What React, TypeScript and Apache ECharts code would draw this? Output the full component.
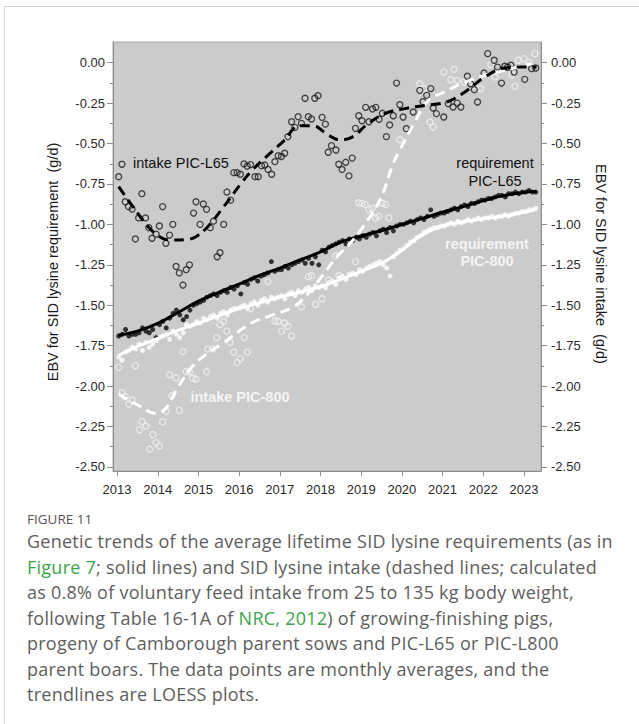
import React, { useEffect, useRef } from "react";
import * as echarts from "echarts";

// Axis ticks
const YEAR_TICKS = [2013, 2014, 2015, 2016, 2017, 2018, 2019, 2020, 2021, 2022, 2023];
const Y_TICKS = [-2.5, -2.25, -2.0, -1.75, -1.5, -1.25, -1.0, -0.75, -0.5, -0.25, 0];
const Y_MINOR = [-2.375, -2.125, -1.875, -1.625, -1.375, -1.125, -0.875, -0.625, -0.375, -0.125];

// Monthly averages of the requirement EBV, from January 2013 to April 2023
const REQ_START_YEAR = 2013;
const reqL65 = [
  -1.69, -1.68, -1.65, -1.69, -1.68, -1.68, -1.67, -1.64, -1.66, -1.67, -1.65, -1.70,
  -1.62, -1.60, -1.64, -1.58, -1.55, -1.53, -1.56, -1.59, -1.57, -1.53, -1.50, -1.49,
  -1.48, -1.47, -1.45, -1.44, -1.43, -1.44, -1.42, -1.41, -1.42, -1.39, -1.40, -1.38,
  -1.43, -1.36, -1.37, -1.34, -1.33, -1.35, -1.32, -1.31, -1.30, -1.23, -1.29, -1.28,
  -1.28, -1.26, -1.27, -1.25, -1.24, -1.23, -1.22, -1.24, -1.21, -1.24, -1.20, -1.25,
  -1.16, -1.17, -1.14, -1.13, -1.12, -1.11, -1.10, -1.12, -1.09, -1.10, -1.08, -1.09,
  -1.07, -1.08, -1.06, -1.05, -1.07, -1.04, -1.03, -1.05, -1.02, -1.04, -1.01, -1.00,
  -1.00, -0.99, -0.98, -0.99, -0.97, -0.96, -0.97, -0.95, -0.91, -0.95, -0.94, -0.93,
  -0.93, -0.92, -0.91, -0.90, -0.91, -0.89, -0.88, -0.89, -0.87, -0.87, -0.86, -0.85,
  -0.85, -0.84, -0.84, -0.83, -0.82, -0.82, -0.83, -0.81, -0.81, -0.80, -0.81, -0.80,
  -0.80, -0.79, -0.80, -0.80,
];
const req800 = [
  -1.82, -1.84, -1.79, -1.78, -1.76, -1.77, -1.74, -1.78, -1.73, -1.76, -1.74, -1.72,
  -1.70, -1.69, -1.68, -1.71, -1.66, -1.68, -1.70, -1.67, -1.62, -1.63, -1.62, -1.60,
  -1.61, -1.58, -1.59, -1.57, -1.56, -1.58, -1.55, -1.54, -1.56, -1.53, -1.52, -1.52,
  -1.51, -1.50, -1.52, -1.49, -1.48, -1.50, -1.47, -1.46, -1.48, -1.45, -1.46, -1.45,
  -1.44, -1.46, -1.43, -1.42, -1.44, -1.41, -1.42, -1.40, -1.39, -1.41, -1.38, -1.39,
  -1.38, -1.39, -1.36, -1.35, -1.37, -1.33, -1.32, -1.34, -1.31, -1.30, -1.31, -1.28,
  -1.29, -1.27, -1.26, -1.25, -1.24, -1.23, -1.25, -1.27, -1.32, -1.20, -1.18, -1.16,
  -1.15, -1.13, -1.11, -1.10, -1.08, -1.07, -1.05, -1.04, -1.03, -1.02, -1.02, -1.01,
  -1.01, -1.00, -0.99, -1.00, -0.98, -0.99, -0.98, -0.97, -0.98, -0.97, -0.96, -0.97,
  -0.96, -0.96, -0.95, -0.96, -0.95, -0.95, -0.94, -0.95, -0.94, -0.93, -0.93, -0.92,
  -0.92, -0.91, -0.91, -0.90,
];

// LOESS trends of the requirements
const reqL65Trend: [number, number][] = [
  [2013.04, -1.685], [2013.5, -1.66], [2014.0, -1.612], [2014.5, -1.545], [2015.0, -1.475],
  [2015.5, -1.42], [2016.0, -1.37], [2016.5, -1.315], [2017.0, -1.27], [2017.5, -1.22],
  [2018.0, -1.17], [2018.5, -1.11], [2019.0, -1.072], [2019.5, -1.038], [2020.0, -1.0],
  [2020.5, -0.963], [2021.0, -0.925], [2021.5, -0.89], [2022.0, -0.853], [2022.5, -0.822],
  [2023.0, -0.802], [2023.3, -0.797],
];
const req800Trend: [number, number][] = [
  [2013.04, -1.81], [2013.5, -1.755], [2014.0, -1.705], [2014.5, -1.655], [2015.0, -1.61],
  [2015.5, -1.565], [2016.0, -1.52], [2016.5, -1.485], [2017.0, -1.45], [2017.5, -1.42],
  [2018.0, -1.385], [2018.5, -1.34], [2019.0, -1.29], [2019.5, -1.24], [2020.0, -1.16],
  [2020.5, -1.065], [2021.0, -1.01], [2021.5, -0.985], [2022.0, -0.965], [2022.5, -0.948],
  [2023.0, -0.925], [2023.3, -0.905],
];

// Monthly averages of the intake EBV: [year, value]
const intakeL65: [number, number][] = [
  [2013.04, -0.705], [2013.12, -0.628], [2013.2, -0.86], [2013.28, -0.89], [2013.37, -0.905],
  [2013.45, -1.09], [2013.53, -0.96], [2013.61, -0.81], [2013.7, -0.96], [2013.78, -1.02],
  [2013.86, -1.086], [2013.96, -1.06], [2014.04, -1.01], [2014.12, -0.89], [2014.2, -1.117],
  [2014.29, -1.066], [2014.37, -1.0], [2014.45, -1.26], [2014.53, -1.3], [2014.62, -1.375],
  [2014.7, -1.28], [2014.78, -1.25], [2014.88, -0.93], [2014.94, -0.86], [2015.04, -1.0],
  [2015.12, -0.874], [2015.2, -0.907], [2015.29, -1.02], [2015.37, -0.98], [2015.46, -1.2],
  [2015.53, -1.175], [2015.62, -1.0], [2015.7, -0.8], [2015.79, -0.85], [2015.87, -0.68],
  [2015.95, -0.68], [2016.03, -0.69], [2016.12, -0.626], [2016.2, -0.64], [2016.28, -0.63],
  [2016.39, -0.705], [2016.47, -0.705], [2016.55, -0.637], [2016.63, -0.633], [2016.71, -0.66],
  [2016.8, -0.69], [2016.88, -0.612], [2016.96, -0.575], [2017.04, -0.58], [2017.12, -0.56],
  [2017.2, -0.457], [2017.29, -0.365], [2017.37, -0.4], [2017.45, -0.334], [2017.53, -0.375],
  [2017.62, -0.22], [2017.7, -0.334], [2017.78, -0.348], [2017.86, -0.22], [2017.94, -0.204],
  [2018.04, -0.338], [2018.12, -0.38], [2018.19, -0.554], [2018.27, -0.513], [2018.38, -0.54],
  [2018.45, -0.628], [2018.53, -0.66], [2018.62, -0.616], [2018.7, -0.7], [2018.78, -0.59],
  [2018.86, -0.406], [2018.94, -0.328], [2019.02, -0.359], [2019.11, -0.276], [2019.19, -0.365],
  [2019.28, -0.286], [2019.36, -0.276], [2019.44, -0.35], [2019.52, -0.313], [2019.62, -0.457],
  [2019.7, -0.385], [2019.79, -0.328], [2019.87, -0.126], [2019.95, -0.26], [2020.03, -0.336],
  [2020.11, -0.408], [2020.28, -0.305], [2020.44, -0.171], [2020.52, -0.241], [2020.61, -0.202],
  [2020.71, -0.16], [2020.77, -0.28], [2020.85, -0.315], [2021.03, -0.336], [2021.14, -0.253],
  [2021.26, -0.274], [2021.36, -0.25], [2021.45, -0.274], [2021.61, -0.084], [2021.69, -0.13],
  [2021.78, -0.167], [2021.86, -0.243], [2022.02, -0.064], [2022.11, 0.056], [2022.27, 0.015],
  [2022.35, -0.027], [2022.45, -0.126], [2022.53, -0.022], [2022.6, -0.028], [2022.68, -0.016],
  [2022.76, -0.058], [2023.02, -0.103], [2023.19, -0.037], [2023.29, -0.033],
];
const intake800: [number, number][] = [
  [2013.04, -1.884], [2013.12, -2.04], [2013.2, -2.065], [2013.29, -2.11], [2013.37, -2.086],
  [2013.45, -1.874], [2013.55, -2.27], [2013.61, -2.22], [2013.71, -2.247], [2013.8, -2.39],
  [2013.88, -2.3], [2013.96, -2.35], [2014.04, -2.37], [2014.12, -2.22], [2014.2, -2.154],
  [2014.29, -1.93], [2014.35, -2.06], [2014.45, -1.95], [2014.53, -2.15], [2014.62, -1.787],
  [2014.7, -1.91], [2014.78, -1.91], [2014.86, -1.95], [2014.94, -1.956], [2015.2, -1.91],
  [2015.23, -1.77], [2015.35, -1.77], [2015.45, -1.7], [2015.53, -1.62], [2015.62, -1.6],
  [2015.7, -1.66], [2015.78, -1.73], [2015.87, -1.79], [2015.95, -1.855], [2016.03, -1.83],
  [2016.13, -1.7], [2016.2, -1.79], [2016.28, -1.52], [2016.71, -1.354], [2016.88, -1.597],
  [2016.96, -1.6], [2017.04, -1.66], [2017.12, -1.61], [2017.2, -1.63], [2017.29, -1.69],
  [2017.53, -1.51], [2017.7, -1.323], [2017.78, -1.317], [2017.88, -1.494], [2018.04, -1.46],
  [2018.2, -1.344], [2018.37, -1.195], [2018.45, -1.317], [2018.86, -1.23], [2018.94, -0.866],
  [2019.02, -0.87], [2019.1, -0.876], [2019.19, -0.907], [2019.27, -0.9], [2019.35, -0.96],
  [2019.43, -0.95], [2019.52, -0.87], [2019.6, -0.876], [2019.68, -0.96], [2019.95, -0.476],
  [2020.44, -0.13], [2020.55, -0.16], [2020.69, -0.367], [2020.77, -0.398], [2020.85, -0.315],
  [2021.03, -0.058], [2021.2, -0.105], [2021.28, -0.041], [2021.36, -0.109], [2021.53, -0.12],
  [2021.78, -0.14], [2021.94, -0.16], [2022.19, -0.012], [2022.29, -0.088], [2022.7, -0.074],
  [2022.78, -0.146], [2022.86, 0.015], [2023.0, 0.025], [2023.12, 0.004], [2023.27, 0.056],
];

// LOESS trends of the intake
const intakeL65Trend: [number, number][] = [
  [2013.04, -0.767], [2013.39, -0.89], [2013.8, -1.024], [2014.12, -1.086], [2014.37, -1.096],
  [2014.74, -1.092], [2014.94, -1.076], [2015.23, -1.014], [2015.56, -0.911], [2016.05, -0.746],
  [2016.3, -0.67], [2016.67, -0.581], [2017.08, -0.488], [2017.49, -0.39], [2017.82, -0.39],
  [2018.15, -0.44], [2018.48, -0.478], [2018.8, -0.457], [2019.13, -0.385], [2019.58, -0.315],
  [2020.07, -0.284], [2020.57, -0.264], [2021.1, -0.243], [2021.55, -0.181], [2022.04, -0.088],
  [2022.53, -0.033], [2023.1, -0.026], [2023.31, -0.028],
];
const intake800Trend: [number, number][] = [
  [2013.04, -2.05], [2013.51, -2.117], [2013.96, -2.17], [2014.2, -2.137], [2014.49, -2.01],
  [2014.86, -1.876], [2015.23, -1.797], [2015.6, -1.735], [2016.28, -1.613], [2016.71, -1.57],
  [2017.33, -1.51], [2017.7, -1.426], [2018.03, -1.323], [2018.4, -1.2], [2018.72, -1.12],
  [2019.05, -1.014], [2019.46, -0.849], [2019.79, -0.622], [2019.95, -0.54], [2020.32, -0.367],
  [2020.65, -0.233], [2021.06, -0.18], [2021.47, -0.13], [2022.04, -0.078], [2022.53, -0.047],
  [2023.02, -0.016], [2023.19, -0.006],
];

const FONT = '"Liberation Sans", Arial, Helvetica, sans-serif';
const Y_MIN = -2.525;
const Y_MAX = 0.128;

const monthly = (values: number[]) =>
  values.map((v, i) => [REQ_START_YEAR + (i + 0.5) / 12, v]);

const majorAxis = (position: "left" | "right", margin: number) => ({
  type: "value",
  position,
  min: Y_MIN,
  max: Y_MAX,
  splitLine: { show: false },
  axisLine: { show: true, onZero: false, lineStyle: { color: "#8c8c8c", width: 1 } },
  axisTick: { show: true, customValues: Y_TICKS, length: 6, lineStyle: { color: "#8c8c8c" } },
  axisLabel: {
    customValues: Y_TICKS,
    margin,
    fontSize: 13,
    fontFamily: FONT,
    color: "#2a2a2a",
    formatter: (v: number) => v.toFixed(2),
  },
});

const minorAxis = (position: "left" | "right") => ({
  type: "value",
  position,
  min: Y_MIN,
  max: Y_MAX,
  splitLine: { show: false },
  axisLine: { show: false, onZero: false },
  axisTick: { show: true, customValues: Y_MINOR, length: 3, lineStyle: { color: "#8c8c8c" } },
  axisLabel: { show: false },
});

const openCircle = (color: string) => ({
  color: "rgba(0,0,0,0)",
  borderColor: color,
  borderWidth: 1.3,
});

const label = (
  text: string,
  x: number,
  y: number,
  fill: string,
  weight: string,
  align: string,
  rotation = 0
) => ({
  type: "text",
  x,
  y,
  rotation,
  z: 100,
  style: {
    text,
    fill,
    fontSize: 14.5,
    fontFamily: FONT,
    fontWeight: weight,
    align,
    verticalAlign: "middle",
  },
});

export default function App() {
  const ref = useRef<HTMLDivElement>(null);

  useEffect(() => {
    if (!ref.current) return;
    const chart = echarts.init(ref.current, undefined, { renderer: "svg" });
    chart.setOption({
      animation: false,
      grid: {
        left: 113,
        top: 42,
        width: 428,
        height: 429,
        show: true,
        backgroundColor: "#cbcbcb",
        borderColor: "#a9a9a9",
        borderWidth: 1,
      },
      xAxis: {
        type: "value",
        min: 2012.9,
        max: 2023.42,
        splitLine: { show: false },
        axisLine: { show: true, onZero: false, lineStyle: { color: "#8c8c8c" } },
        axisTick: { show: true, customValues: YEAR_TICKS, length: 5, lineStyle: { color: "#8c8c8c" } },
        axisLabel: {
          customValues: YEAR_TICKS,
          margin: 12,
          fontSize: 13,
          fontFamily: FONT,
          color: "#2a2a2a",
          formatter: (v: number) => String(Math.round(v)),
        },
      },
      yAxis: [majorAxis("left", 8), minorAxis("left"), majorAxis("right", 10), minorAxis("right")],
      series: [
        {
          name: "requirement PIC-800",
          type: "scatter",
          yAxisIndex: 0,
          data: monthly(req800),
          symbolSize: 5,
          itemStyle: { color: "#ffffff" },
        },
        {
          name: "requirement PIC-800 trend",
          type: "line",
          yAxisIndex: 0,
          data: req800Trend,
          smooth: 0.4,
          showSymbol: false,
          lineStyle: { color: "#ffffff", width: 3 },
        },
        {
          name: "requirement PIC-L65",
          type: "scatter",
          yAxisIndex: 0,
          data: monthly(reqL65),
          symbolSize: 5,
          itemStyle: { color: "#0a0a0a" },
        },
        {
          name: "requirement PIC-L65 trend",
          type: "line",
          yAxisIndex: 0,
          data: reqL65Trend,
          smooth: 0.4,
          showSymbol: false,
          lineStyle: { color: "#000000", width: 3 },
        },
        {
          name: "intake PIC-800",
          type: "scatter",
          yAxisIndex: 2,
          data: intake800,
          symbolSize: 6,
          itemStyle: openCircle("#f2f2f2"),
        },
        {
          name: "intake PIC-800 trend",
          type: "line",
          yAxisIndex: 2,
          data: intake800Trend,
          smooth: 0.4,
          showSymbol: false,
          lineStyle: { color: "#ffffff", width: 3, type: [10, 6] },
        },
        {
          name: "intake PIC-L65",
          type: "scatter",
          yAxisIndex: 2,
          data: intakeL65,
          symbolSize: 6,
          itemStyle: openCircle("#1a1a1a"),
        },
        {
          name: "intake PIC-L65 trend",
          type: "line",
          yAxisIndex: 2,
          data: intakeL65Trend,
          smooth: 0.4,
          showSymbol: false,
          lineStyle: { color: "#000000", width: 3, type: [10, 6] },
        },
      ],
      graphic: [
        label("EBV for SID lysine requirement  (g/d)", 53, 262, "#1a1a1a", "normal", "center", Math.PI / 2),
        label("EBV for SID lysine intake  (g/d)", 601, 264, "#1a1a1a", "normal", "center", -Math.PI / 2),
        label("intake PIC-L65", 133, 163, "#111111", "normal", "left"),
        label("requirement", 495, 163, "#111111", "normal", "center"),
        label("PIC-L65", 495, 181, "#111111", "normal", "center"),
        label("requirement", 487, 244, "#f4f4f4", "bold", "center"),
        label("PIC-800", 487, 261, "#f4f4f4", "bold", "center"),
        label("intake PIC-800", 240, 397, "#f4f4f4", "bold", "center"),
      ],
    });
    return () => chart.dispose();
  }, []);

  const green = { color: "#3ba549" };

  return (
    <div
      style={{
        position: "absolute",
        left: 0,
        top: 0,
        width: 639,
        height: 724,
        overflow: "hidden",
        background: "#ffffff",
      }}
    >
      <div
        style={{
          position: "absolute",
          left: 4,
          top: 6,
          width: 700,
          height: 800,
          borderLeft: "1px solid #d2d2d2",
          borderTop: "1px solid #d2d2d2",
        }}
      />
      <div ref={ref} style={{ position: "absolute", left: 0, top: 0, width: 639, height: 505 }} />
      <div
        style={{
          position: "absolute",
          left: 27,
          top: 510,
          fontFamily: '"Open Sans", sans-serif',
          fontSize: 13.5,
          lineHeight: "18px",
          color: "#555555",
          whiteSpace: "nowrap",
        }}
      >
        FIGURE 11
      </div>
      <div
        style={{
          position: "absolute",
          left: 27,
          top: 529,
          fontFamily: '"Open Sans", sans-serif',
          fontSize: 18,
          letterSpacing: "0.25px",
          lineHeight: "25.5px",
          color: "#5e5e5e",
          whiteSpace: "nowrap",
        }}
      >
        Genetic trends of the average lifetime SID lysine requirements (as in
        <br />
        <span style={green}>Figure 7</span>; solid lines) and SID lysine intake (dashed lines; calculated
        <br />
        as 0.8% of voluntary feed intake from 25 to 135 kg body weight,
        <br />
        following Table 16-1A of <span style={green}>NRC, 2012</span>) of growing-finishing pigs,
        <br />
        progeny of Camborough parent sows and PIC-L65 or PIC-L800
        <br />
        parent boars. The data points are monthly averages, and the
        <br />
        trendlines are LOESS plots.
      </div>
    </div>
  );
}
